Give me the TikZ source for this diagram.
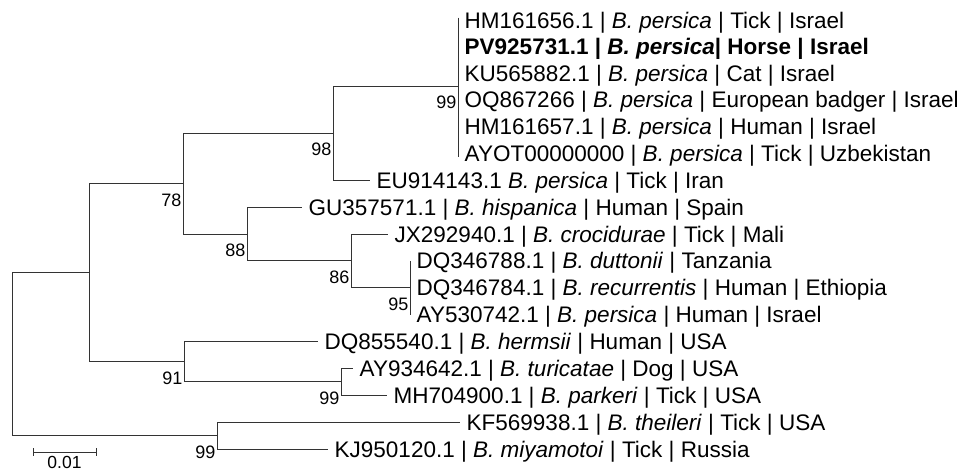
\documentclass[tikz,border=0pt]{standalone}
\usepackage{fontspec}
\setmainfont{Liberation Sans}
\begin{document}
\begin{tikzpicture}[x=1pt,y=-1pt,
  br/.style={draw=black!80, line width=1pt},
  tip/.style={anchor=base west, inner sep=0pt, xshift=6.5pt, yshift=-8.1pt, font=\fontsize{22.5}{26}\selectfont},
  boot/.style={anchor=base east, inner sep=0pt, xshift=-1.5pt, yshift=-22.4pt, font=\fontsize{18}{21}\selectfont},
  scl/.style={anchor=base, inner sep=0pt, font=\fontsize{17.5}{21}\selectfont}]
\useasboundingbox (0,0) rectangle (972,472);
% tips (branch ends)
\coordinate (e0) at (458,20);
\coordinate (e1) at (458,46.5);
\coordinate (e2) at (458,73);
\coordinate (e3) at (458,99.625);
\coordinate (e4) at (458,126.2);
\coordinate (e5) at (458,153);
\coordinate (e6) at (370,180.25);
\coordinate (e7) at (302,207.125);
\coordinate (e8) at (388,234);
\coordinate (e9) at (410,260.875);
\coordinate (e10) at (410,287.75);
\coordinate (e11) at (410,314.625);
\coordinate (e12) at (318,341.5);
\coordinate (e13) at (353,368.375);
\coordinate (e14) at (387,395.25);
\coordinate (e15) at (460,422.125);
\coordinate (e16) at (328,449);
% internal nodes
\coordinate (n99a) at (458,86);
\coordinate (n98) at (333,133.1);
\coordinate (n95) at (410,287.75);
\coordinate (n86) at (351,260.9);
\coordinate (n88) at (247,234.0);
\coordinate (n78) at (183,183.6);
\coordinate (n99b) at (341,381.8);
\coordinate (n91) at (184,361.7);
\coordinate (nA) at (89,272.6);
\coordinate (n99c) at (217,435.6);
\coordinate (root) at (12,354.1);
% branches
\draw[br] (root) |- (nA);
\draw[br] (root) |- (n99c);
\draw[br] (nA) |- (n78);
\draw[br] (nA) |- (n91);
\draw[br] (n78) |- (n98);
\draw[br] (n78) |- (n88);
\draw[br] (n98) |- (n99a);
\draw[br] (n98) |- (e6);
\draw[br] ([yshift=2.5pt]e0) -- ([yshift=-4pt]e5);
\draw[br] (n88) |- (e7);
\draw[br] (n88) |- (n86);
\draw[br] (n86) |- (e8);
\draw[br] (n86) |- (n95);
\draw[br] (e9) -- (e11);
\draw[br] (n91) |- (e12);
\draw[br] (n91) |- (n99b);
\draw[br] (n99b) |- (e13);
\draw[br] (n99b) |- (e14);
\draw[br] (n99c) |- (e15);
\draw[br] (n99c) |- (e16);
% tip labels
\node[tip] (l0) at (e0) {HM161656.1 | \textit{B. persica} | Tick | Israel};
\node[tip] (l1) at (e1) {\textbf{PV925731.1 | \textit{B. persica}| Horse | Israel}};
\node[tip] (l2) at (e2) {KU565882.1 | \textit{B. persica} | Cat | Israel};
\node[tip] (l3) at (e3) {OQ867266 | \textit{B. persica} | European badger | Israel};
\node[tip] (l4) at (e4) {HM161657.1 | \textit{B. persica} | Human | Israel};
\node[tip] (l5) at (e5) {AYOT00000000 | \textit{B. persica} | Tick | Uzbekistan};
\node[tip] (l6) at (e6) {EU914143.1 \textit{B. persica} | Tick | Iran};
\node[tip] (l7) at (e7) {GU357571.1 | \textit{B. hispanica} | Human | Spain};
\node[tip] (l8) at (e8) {JX292940.1 | \textit{B. crocidurae} | Tick | Mali};
\node[tip] (l9) at (e9) {DQ346788.1 | \textit{B. duttonii} | Tanzania};
\node[tip] (l10) at (e10) {DQ346784.1 | \textit{B. recurrentis} | Human | Ethiopia};
\node[tip] (l11) at (e11) {AY530742.1 | \textit{B. persica} | Human | Israel};
\node[tip] (l12) at (e12) {DQ855540.1 | \textit{B. hermsii} | Human | USA};
\node[tip] (l13) at (e13) {AY934642.1 | \textit{B. turicatae} | Dog | USA};
\node[tip] (l14) at (e14) {MH704900.1 | \textit{B. parkeri} | Tick | USA};
\node[tip] (l15) at (e15) {KF569938.1 | \textit{B. theileri} | Tick | USA};
\node[tip] (l16) at (e16) {KJ950120.1 | \textit{B. miyamotoi} | Tick | Russia};
% bootstrap values
\node[boot] (b1) at (n99a) {99};
\node[boot] (b2) at (n98) {98};
\node[boot] (b3) at (n78) {78};
\node[boot] (b4) at (n88) {88};
\node[boot] (b5) at (n86) {86};
\node[boot] (b6) at (n95) {95};
\node[boot] (b7) at (n91) {91};
\node[boot] (b8) at (n99b) {99};
\node[boot] (b9) at (n99c) {99};
% scale bar
\coordinate (s0) at (33,452);
\coordinate (s1) at (96,452);
\draw[br] (s0) -- (s1);
\draw[br] ([yshift=4pt]s0) -- ([yshift=-4pt]s0);
\draw[br] ([yshift=4pt]s1) -- ([yshift=-4pt]s1);
\node[scl] (sl) at (64.5,468.5) {0.01};
\end{tikzpicture}
\end{document}
